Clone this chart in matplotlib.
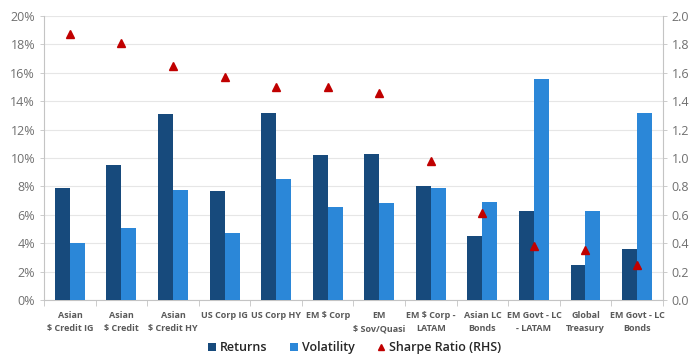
import matplotlib
matplotlib.use("Agg")
import matplotlib.pyplot as plt
import numpy as np
from matplotlib.ticker import FuncFormatter, MultipleLocator

plt.rcParams['font.family'] = ['Open Sans', 'DejaVu Sans']

categories = [
    "Asian\n\\$ Credit IG", "Asian\n\\$ Credit", "Asian\n\\$ Credit HY",
    "US Corp IG", "US Corp HY", "EM \\$ Corp", "EM\n\\$ Sov/Quasi",
    "EM \\$ Corp -\nLATAM", "Asian LC\nBonds", "EM Govt - LC\n- LATAM",
    "Global\nTreasury", "EM Govt - LC\nBonds",
]
returns = [7.9, 9.5, 13.1, 7.7, 13.2, 10.2, 10.3, 8.05, 4.5, 6.3, 2.5, 3.6]
volatility = [4.05, 5.05, 7.75, 4.7, 8.55, 6.55, 6.85, 7.9, 6.9, 15.55, 6.3, 13.2]
sharpe = [1.87, 1.81, 1.65, 1.57, 1.50, 1.50, 1.46, 0.98, 0.61, 0.38, 0.35, 0.25]

navy = "#174a7c"
blue = "#2b87d8"
red = "#c00000"
grey = "#707070"

fig = plt.figure(figsize=(6.89, 3.56), dpi=100)
ax = fig.add_axes([0.064, 0.157, 0.898, 0.798])
ax2 = ax.twinx()

x = np.arange(len(categories))
w = 0.29
ax.bar(x - w / 2, returns, width=w, color=navy, label="Returns", zorder=3)
ax.bar(x + w / 2, volatility, width=w, color=blue, label="Volatility", zorder=3)
ax2.plot(x, sharpe, linestyle="none", marker="^", markersize=6, color=red,
         label="Sharpe Ratio (RHS)", zorder=4)

ax.set_xlim(-0.5, len(categories) - 0.5)
ax.set_ylim(0, 20)
ax2.set_ylim(0, 2.0)
ax.yaxis.set_major_locator(MultipleLocator(2))
ax2.yaxis.set_major_locator(MultipleLocator(0.2))
ax.yaxis.set_major_formatter(FuncFormatter(lambda v, p: f"{v:.0f}%"))
ax2.yaxis.set_major_formatter(FuncFormatter(lambda v, p: f"{v:.1f}"))

ax.grid(axis="y", color="#e6e6e6", linewidth=0.8, zorder=0)
ax.set_axisbelow(True)

for a in (ax, ax2):
    a.spines["top"].set_visible(False)
    a.tick_params(axis="y", colors=grey, labelsize=9, length=3, width=0.6)
ax.spines["right"].set_visible(False)
ax2.spines["left"].set_visible(False)
ax2.spines["bottom"].set_visible(False)
ax.spines["left"].set_color("#c4c4c4")
ax2.spines["right"].set_color("#c4c4c4")
ax.spines["bottom"].set_color("#c4c4c4")
ax.tick_params(axis="y", color="#c4c4c4")
ax2.tick_params(axis="y", color="#c4c4c4")

ax.set_xticks(x)
ax.set_xticklabels(categories, fontsize=6.5, fontweight="bold", color="#5a5a5a",
                   linespacing=1.6, va="top")
ax.tick_params(axis="x", length=0, pad=8)
ax.set_xticks(np.arange(-0.5, len(categories)), minor=True)
ax.tick_params(axis="x", which="minor", length=4, color="#c4c4c4", width=0.6)

h1, l1 = ax.get_legend_handles_labels()
h2, l2 = ax2.get_legend_handles_labels()
leg = fig.legend(h1 + h2, l1 + l2, loc="center", bbox_to_anchor=(0.515, 0.024), ncol=3,
                 frameon=False, fontsize=9, handlelength=0.6, handleheight=0.6,
                 handletextpad=0.35, columnspacing=1.8, labelcolor="#262626",
                 markerscale=0.8, prop={"weight": "semibold", "size": 9})

fig.savefig("out.png", dpi=100)
